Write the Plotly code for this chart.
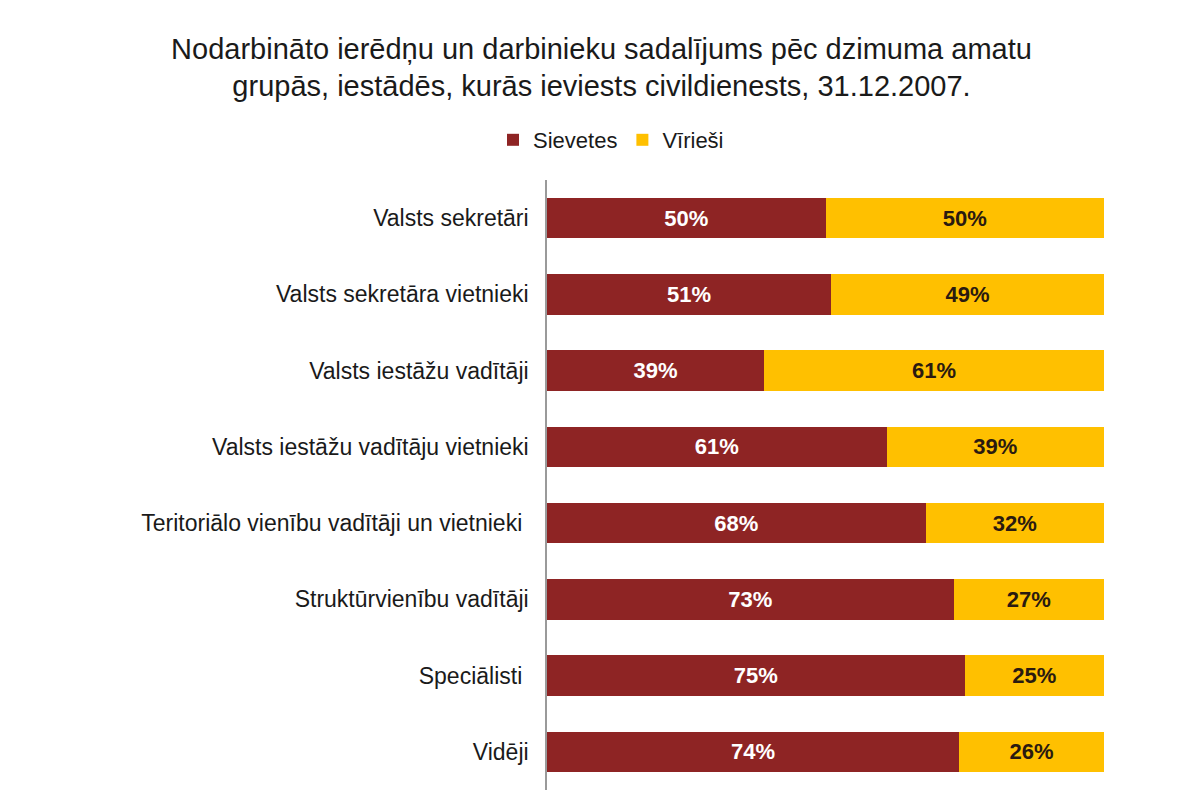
import plotly.graph_objects as go

categories = [
    "Valsts sekretāri",
    "Valsts sekretāra vietnieki",
    "Valsts iestāžu vadītāji",
    "Valsts iestāžu vadītāju vietnieki",
    "Teritoriālo vienību vadītāji un vietnieki ",
    "Struktūrvienību vadītāji",
    "Speciālisti ",
    "Vidēji",
]
women = [50, 51, 39, 61, 68, 73, 75, 74]
men = [50, 49, 61, 39, 32, 27, 25, 26]
series_names = ["Sievetes", "Vīrieši"]

RED = "#8E2424"
YELLOW = "#FFC000"

fig = go.Figure()
fig.add_trace(go.Bar(
    y=categories, x=women, name=series_names[0], orientation="h",
    marker=dict(color=RED, line=dict(width=0)),
    text=[f"{v}%" for v in women], textposition="inside", insidetextanchor="middle",
    textfont=dict(color="white", size=22, family="Liberation Sans", weight="bold"),
))
fig.add_trace(go.Bar(
    y=categories, x=men, name=series_names[1], orientation="h",
    marker=dict(color=YELLOW, line=dict(width=0)),
    text=[f"{v}%" for v in men], textposition="inside", insidetextanchor="middle",
    textfont=dict(color="#2a1a10", size=22, family="Liberation Sans", weight="bold"),
))

# page body has an 8px margin; shrink figure and shift margins accordingly
fig.update_layout(
    barmode="stack",
    bargap=0.47,
    width=1187, height=802,
    margin=dict(l=539, r=91, t=172, b=20),
    paper_bgcolor="white", plot_bgcolor="white",
    font=dict(family="Liberation Sans", color="#1a1a1a"),
    title=dict(
        text="Nodarbināto ierēdņu un darbinieku sadalījums pēc dzimuma amatu<br>grupās, iestādēs, kurās ieviests civildienests, 31.12.2007.",
        x=0.5, xref="container", xanchor="center",
        y=0.937, yref="container", yanchor="top",
        font=dict(size=29, color="#1a1a1a", family="Liberation Sans"),
    ),
    legend=dict(
        orientation="h", x=0.508, xref="container", xanchor="center",
        y=1 - 132 / 802, yref="container", yanchor="middle",
        font=dict(size=22, color="#1a1a1a"),
        traceorder="normal",
        itemwidth=30,
    ),
    showlegend=True,
    xaxis=dict(range=[0, 100], visible=False, fixedrange=True),
    yaxis=dict(
        autorange="reversed", showline=True, linecolor="#9a9a9a", linewidth=1.5,
        ticks="", showgrid=False, tickfont=dict(size=23, color="#1a1a1a"),
        ticklabelstandoff=12,
    ),
)

fig.write_html("out.html")
